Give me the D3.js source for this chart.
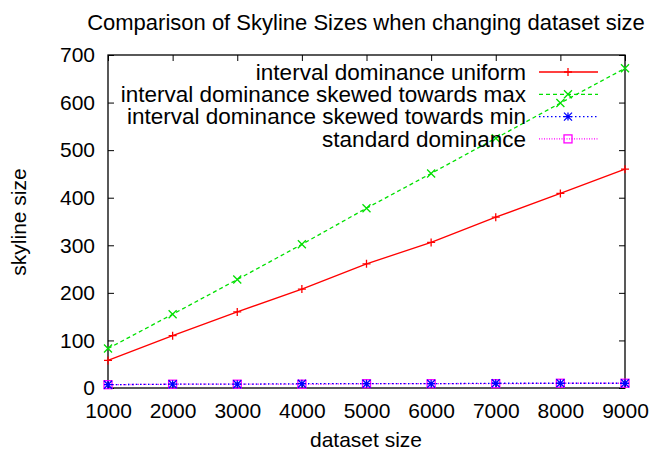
<!DOCTYPE html>
<html>
<head>
<meta charset="utf-8">
<script src="https://cdn.jsdelivr.net/npm/d3@7"></script>
<style>
  body { margin: 0; background: #fff; }
  text { font-family: "Liberation Sans", Arial, sans-serif; fill: #000; }
</style>
</head>
<body>
<svg id="chart"></svg>
<script>
var sizes = [1000, 2000, 3000, 4000, 5000, 6000, 7000, 8000, 9000];
var uniform = [58, 110, 160, 208, 261, 306, 359, 409, 460];
var skewedMax = [83, 155, 228, 302, 378, 451, 525, 599, 672];
var skewedMin = [7, 8, 8, 9, 9, 9, 10, 10, 10];
var standard = [7, 8, 8, 8, 9, 9, 9, 10, 10];
var yTicks = [0, 100, 200, 300, 400, 500, 600, 700];

var width = 655, height = 454;
var margin = {left: 108, right: 30, top: 55, bottom: 66};

var svg = d3.select('#chart').attr('width', width).attr('height', height);

var x = d3.scaleLinear().domain([1000, 9000]).range([margin.left, width - margin.right]);
var y = d3.scaleLinear().domain([0, 700]).range([height - margin.bottom, margin.top]);

var series = [
    {name: 'interval dominance uniform', values: uniform, color: '#ff0000', dash: null, mark: 'plus'},
    {name: 'interval dominance skewed towards max', values: skewedMax, color: '#00e000', dash: '4,3', mark: 'cross'},
    {name: 'interval dominance skewed towards min', values: skewedMin, color: '#0000ff', dash: '1.5,2.5', mark: 'star'},
    {name: 'standard dominance', values: standard, color: '#ff00ff', dash: '1,1.5', mark: 'square'}
];

// axes with inward ticks
var tickLen = 6;
svg.append('g')
    .attr('transform', 'translate(0,' + y(0) + ')')
    .call(d3.axisBottom(x).tickValues(sizes).tickSize(-tickLen).tickPadding(15).tickFormat(d3.format('d')))
    .call(g => g.select('.domain').remove())
    .selectAll('text').attr('font-size', 21);
svg.append('g')
    .attr('transform', 'translate(0,' + y(700) + ')')
    .call(d3.axisTop(x).tickValues(sizes).tickSize(-tickLen).tickFormat(''))
    .call(g => g.select('.domain').remove());
svg.append('g')
    .attr('transform', 'translate(' + x(1000) + ',0)')
    .call(d3.axisLeft(y).tickValues(yTicks).tickSize(-tickLen).tickPadding(13))
    .call(g => g.select('.domain').remove())
    .selectAll('text').attr('font-size', 21);
svg.append('g')
    .attr('transform', 'translate(' + x(9000) + ',0)')
    .call(d3.axisRight(y).tickValues(yTicks).tickSize(-tickLen).tickFormat(''))
    .call(g => g.select('.domain').remove());

svg.selectAll('.tick line').attr('stroke', '#000');

svg.append('rect')
    .attr('x', x(1000)).attr('y', y(700))
    .attr('width', x(9000) - x(1000)).attr('height', y(0) - y(700))
    .attr('fill', 'none').attr('stroke', '#000').attr('stroke-width', 1.3);

function drawMark(g, type, cx, cy, color) {
    var s = 4;
    if (type === 'plus') {
        g.append('path').attr('d', 'M' + (cx - s) + ',' + cy + 'H' + (cx + s) + 'M' + cx + ',' + (cy - s) + 'V' + (cy + s));
    } else if (type === 'cross') {
        g.append('path').attr('d', 'M' + (cx - s) + ',' + (cy - s) + 'L' + (cx + s) + ',' + (cy + s) + 'M' + (cx - s) + ',' + (cy + s) + 'L' + (cx + s) + ',' + (cy - s));
    } else if (type === 'star') {
        g.append('path').attr('d', 'M' + (cx - s) + ',' + cy + 'H' + (cx + s) + 'M' + cx + ',' + (cy - s) + 'V' + (cy + s) +
            'M' + (cx - s) + ',' + (cy - s) + 'L' + (cx + s) + ',' + (cy + s) + 'M' + (cx - s) + ',' + (cy + s) + 'L' + (cx + s) + ',' + (cy - s));
    } else {
        g.append('rect').attr('x', cx - s).attr('y', cy - s).attr('width', 2 * s).attr('height', 2 * s).attr('fill', 'none');
    }
    g.selectAll('*').attr('stroke', color).attr('stroke-width', 1.3);
}

var line = d3.line().x((d, i) => x(sizes[i])).y(d => y(d));

series.slice().reverse().forEach(function(s) {
    svg.append('path')
        .datum(s.values)
        .attr('d', line)
        .attr('fill', 'none')
        .attr('stroke', s.color)
        .attr('stroke-width', 1.3)
        .attr('stroke-dasharray', s.dash);
    s.values.forEach(function(v, i) {
        drawMark(svg.append('g'), s.mark, x(sizes[i]), y(v), s.color);
    });
});

// legend
var legend = svg.append('g');
series.forEach(function(s, i) {
    var ly = 72 + i * 22.3;
    legend.append('text')
        .attr('x', 526).attr('y', ly).attr('dy', '0.35em')
        .attr('text-anchor', 'end').attr('font-size', 22.5)
        .text(s.name);
    legend.append('line')
        .attr('x1', 539).attr('x2', 598).attr('y1', ly).attr('y2', ly)
        .attr('stroke', s.color).attr('stroke-width', 1.3)
        .attr('stroke-dasharray', s.dash);
    drawMark(legend.append('g'), s.mark, 568, ly, s.color);
});

svg.append('text')
    .attr('x', 366).attr('y', 30)
    .attr('text-anchor', 'middle').attr('font-size', 22)
    .text('Comparison of Skyline Sizes when changing dataset size');

svg.append('text')
    .attr('x', 366).attr('y', 447)
    .attr('text-anchor', 'middle').attr('font-size', 21)
    .text('dataset size');

svg.append('text')
    .attr('transform', 'translate(26,222) rotate(-90)')
    .attr('text-anchor', 'middle').attr('font-size', 21)
    .text('skyline size');
</script>
</body>
</html>
